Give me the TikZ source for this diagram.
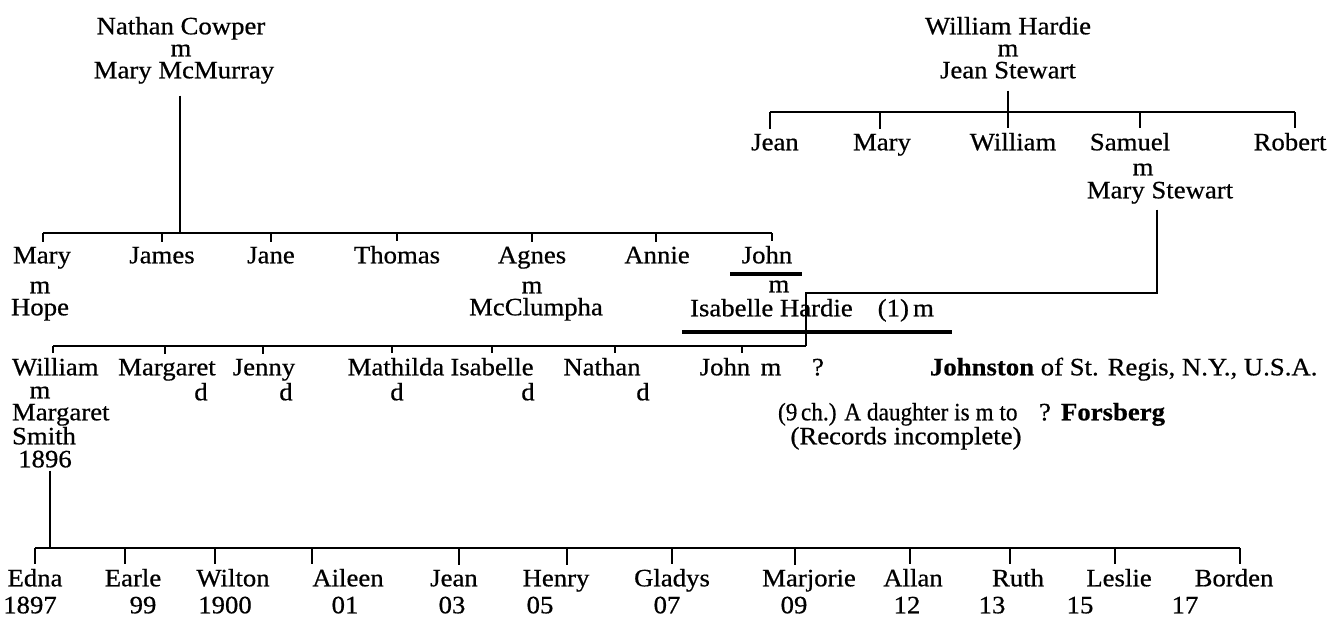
\documentclass[tikz,border=0pt]{standalone}
\usepackage{graphicx}
\usepackage{fontspec}
\setmainfont[FakeStretch=1.07,FakeBold=0.6]{Liberation Serif}
\begin{document}
\begin{tikzpicture}[x=1pt,y=-1pt,
  lbl/.style={inner sep=0pt, outer sep=0pt, anchor=mid, font=\fontsize{25}{25}\selectfont},
  lblw/.style={lbl, anchor=mid west},
  ln/.style={line width=1.8pt},
  ul/.style={line width=3.2pt}]
\useasboundingbox[fill=white] (0,0) rectangle (1330,618);

% ---------- Cowper parents
\node[lbl] (nc)  at (181,32) {Nathan Cowper};
\node[lbl] (ncm) at (181,54) {m};
\node[lbl] (mm)  at (184,76) {Mary McMurray};
\coordinate (cJ) at (180,233);
\draw[ln] ([yshift=-12pt]mm.south -| cJ) -- (cJ);

% ---------- Hardie parents
\node[lbl] (wh)  at (1008,32) {William Hardie};
\node[lbl] (whm) at (1008,54) {m};
\node[lbl] (js)  at (1008,76) {Jean Stewart};
\coordinate (hJ) at (1008,112);
\foreach \n/\t/\nx in {Jean/770/775, Mary/880/882, William/1008/1013, Samuel/1140/1130, Robert/1295/1290}{
  \coordinate (tkH\n) at (\t,112);
  \node[lbl] (nH\n) at (\nx,148) {\n};
  \draw[ln] (tkH\n) -- ([yshift=5pt]nH\n.north -| tkH\n);
}
\draw[ln] (tkHJean) -- (tkHRobert);
\draw[ln] ([yshift=-12pt]js.south -| hJ) -- (hJ);
\node[lbl] (sm)  at (1143,173) {m};
\node[lbl] (ms)  at (1160,196) {Mary Stewart};

% ---------- Cowper children
\foreach \n/\t/\nx in {Mary/43/42, James/162/162, Jane/271/271, Thomas/397/397, Agnes/532/532, Annie/656/657, John/772/767}{
  \coordinate (tkB\n) at (\t,233);
  \node[lbl] (nB\n) at (\nx,261) {\n};
  \draw[ln] (tkB\n) -- ([yshift=5pt]nB\n.north -| tkB\n);
}
\draw[ln] (tkBMary) -- (tkBJohn);
\node[lbl] (mryM) at (40,291) {m};
\node[lbl] (hope) at (40,313) {Hope};
\node[lbl] (agM)  at (532,291) {m};
\node[lbl] (mcc)  at (536,313) {McClumpha};
\node[lbl] (jnM)  at (779,290) {m};
\node[lbl] (ish)  at (812,314) {Isabelle Hardie\quad(1)\,m};
\coordinate (ulJa) at (730,274); \coordinate (ulJb) at (802,274);
\draw[ul] (ulJa) -- (ulJb);
\coordinate (ulIa) at (682,332); \coordinate (ulIb) at (952,332);
\draw[ul] (ulIa) -- (ulIb);

% ---------- marriage John x Isabelle Hardie
\coordinate (sJ) at (1157,293);
\coordinate (jJ) at (806,293);
\coordinate (jC) at (806,346);
\draw[ln] ([yshift=-6pt]ms.south -| sJ) -- (sJ) -- (jJ) -- (jC);

% ---------- children of John & Isabelle
\foreach \n/\t/\nx in {Margaret/165/167, Jenny/263/264, Mathilda/392/396, Isabelle/492/492, Nathan/615/602, John/742/725}{
  \coordinate (tkC\n) at (\t,346);
  \node[lbl] (nC\n) at (\nx,373) {\n};
  \draw[ln] (tkC\n) -- ([yshift=5pt]nC\n.north -| tkC\n);
}
\coordinate (tkCWilliam) at (53,346);
\node[lblw] (nCWilliam) at (12,373) {William};
\draw[ln] (tkCWilliam) -- ([yshift=5pt]nCWilliam.north -| tkCWilliam);
\draw[ln] (tkCWilliam) -- (jC);
\node[lbl] (wM) at (40,396) {m};
\foreach \i/\x in {1/201, 2/286, 3/397, 4/528, 5/643}{
  \node[lbl] (dd\i) at (\x,398) {d};
}
\node[lblw] (msm) at (12,418) {Margaret};
\node[lbl] (smi)  at (44,442) {Smith};
\node[lbl] (y96)  at (45,465) {1896};

\node[lbl] (jM)   at (771,373) {m};
\node[lbl] (jQ)   at (818,373) {?};
\node[lblw] (jst) at (930,373) {\textbf{Johnston} of St. Regis, N.Y., U.S.A.};
\node[lblw] (dau) at (778,418) {\scalebox{0.87}[1]{(9\,ch.) A daughter is m to}};
\node[lbl] (dQ)   at (1045,418) {?};
\node[lbl] (fors) at (1113,418) {\textbf{Forsberg}};
\node[lbl] (rec)  at (906,442) {(Records incomplete)};

% ---------- children of William & Margaret Smith
\coordinate (wJ) at (50,548);
\draw[ln] ([yshift=-3pt]y96.south -| wJ) -- (wJ);
\foreach \n/\t/\nx/\yr/\yx in {Edna/35/35/1897/30, Earle/125/133/99/143, Wilton/215/233/1900/225, Aileen/312/348/01/345, Jean/459/454/03/452, Henry/567/556/05/540, Gladys/672/672/07/667, Marjorie/795/809/09/794, Allan/910/913/12/907, Ruth/1010/1018/13/992, Leslie/1115/1119/15/1080, Borden/1240/1234/17/1185}{
  \coordinate (tkD\n) at (\t,548);
  \node[lbl] (nD\n) at (\nx,584) {\n};
  \node[lbl] (yD\n) at (\yx,611) {\yr};
  \draw[ln] (tkD\n) -- ([yshift=5pt]nD\n.north -| tkD\n);
}
\draw[ln] (tkDEdna) -- (tkDBorden);
\end{tikzpicture}
\end{document}
